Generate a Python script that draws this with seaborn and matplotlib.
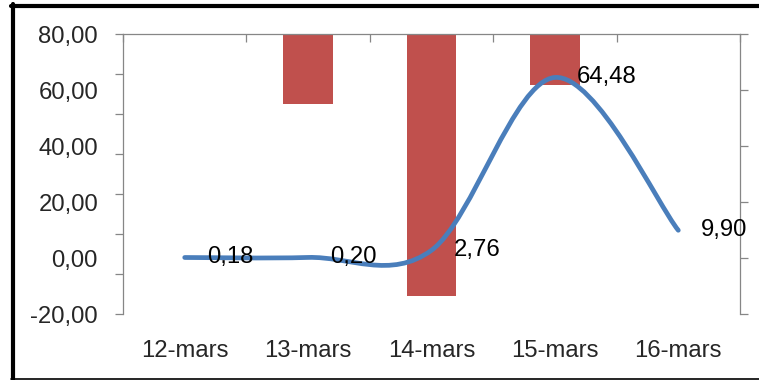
import matplotlib
matplotlib.use("Agg")
import matplotlib.pyplot as plt
from matplotlib.path import Path
from matplotlib.patches import PathPatch
from matplotlib.lines import Line2D
import numpy as np
import pandas as pd
import seaborn as sns

# ---- data ----
dates = ["12-mars", "13-mars", "14-mars", "15-mars", "16-mars"]
bar_values = [0.0, -17.6, -65.5, -12.75, 0.0]          # primary axis (hanging bars)
line_values = [0.18, 0.20, 2.76, 64.48, 9.90]          # secondary axis (smoothed line)
line_labels = ["0,18", "0,20", "2,76", "64,48", "9,90"]
left_ticks = [-20, 0, 20, 40, 60, 80]
left_tick_labels = ["-20,00", "0,00", "20,00", "40,00", "60,00", "80,00"]

BAR_COLOR = "#C0504D"
LINE_COLOR = "#4A7EBB"
AXIS_GREY = "#868686"
FS = 17.2

sns.set_theme(style="white")
plt.rcParams["font.family"] = ["Liberation Sans", "DejaVu Sans"]

W, H = 759, 380
fig = plt.figure(figsize=(W / 100, H / 100), dpi=100)
ax = fig.add_axes([123 / W, (H - 314) / H, (740 - 123) / W, (314 - 34) / H])

df = pd.DataFrame({"date": dates, "value": bar_values})
sns.barplot(data=df, x="date", y="value", color=BAR_COLOR, width=0.4,
            saturation=1, linewidth=0, ax=ax)
ax.set_xlim(-0.5, len(dates) - 0.5)
ax.set_ylim(-70, 0)
ax.set_yticks(np.arange(-70, 1, 10))
ax.tick_params(axis="y", which="major", left=True, right=False, labelleft=False,
               direction="out", length=6, width=0.9, color=AXIS_GREY)
ax.set_xlabel("")
ax.set_ylabel("")

# category labels at the bottom, separators at the top
ax.set_xticks(range(len(dates)))
ax.set_xticklabels(dates, fontsize=FS)
ax.tick_params(axis="x", which="major", bottom=True, top=False, length=0, pad=19,
               labelbottom=True)
ax.set_xticks(np.arange(-0.5, len(dates), 1.0), minor=True)
ax.tick_params(axis="x", which="minor", bottom=False, top=True, direction="in",
               length=6, width=0.9, color=AXIS_GREY)

for side in ["top", "left"]:
    ax.spines[side].set_color(AXIS_GREY)
    ax.spines[side].set_linewidth(0.9)
for side in ["right", "bottom"]:
    ax.spines[side].set_visible(False)

# secondary axis with the smoothed line
ax2 = ax.twinx()
ax2.set_ylim(-20, 80)
ax2.set_yticks(left_ticks)
ax2.set_yticklabels(left_tick_labels, fontsize=FS)
ax2.tick_params(axis="y", which="major", left=False, right=True, labelleft=True,
                labelright=False, direction="out", length=6, width=0.9,
                color=AXIS_GREY, pad=12)
for side in ["top", "left", "bottom"]:
    ax2.spines[side].set_visible(False)
ax2.spines["right"].set_color(AXIS_GREY)
ax2.spines["right"].set_linewidth(0.9)

# smoothed curve: cubic Bezier segments with Catmull-Rom style control points
xs = np.arange(len(line_values), dtype=float)
ys = np.array(line_values, dtype=float)
pts = np.column_stack([xs, ys])
verts = [tuple(pts[0])]
codes = [Path.MOVETO]
n = len(pts)
for i in range(n - 1):
    p0 = pts[i - 1] if i > 0 else pts[i]
    p1 = pts[i]
    p2 = pts[i + 1]
    p3 = pts[i + 2] if i + 2 < n else pts[i + 1]
    c1 = p1 + (p2 - p0) / 6.0
    c2 = p2 - (p3 - p1) / 6.0
    verts += [tuple(c1), tuple(c2), tuple(p2)]
    codes += [Path.CURVE4] * 3
curve = PathPatch(Path(verts, codes), facecolor="none", edgecolor=LINE_COLOR,
                  linewidth=3.4, capstyle="round", joinstyle="round",
                  transform=ax2.transData, zorder=3)
ax2.add_patch(curve)

for i, (v, lab) in enumerate(zip(line_values, line_labels)):
    ax2.annotate(lab, (i, v), xytext=(16, 0), textcoords="offset points",
                 ha="left", va="center", fontsize=FS, color="black", zorder=4)

# frame around the chart
fig.add_artist(Line2D([12.5 / W, 12.5 / W], [0, (H - 4) / H], color="black",
                      linewidth=3.0, transform=fig.transFigure))
fig.add_artist(Line2D([10.5 / W, 1.0], [(H - 5.5) / H, (H - 5.5) / H], color="black",
                      linewidth=3.0, transform=fig.transFigure))
fig.add_artist(Line2D([10.5 / W, 1.0], [1.5 / H, 1.5 / H], color="black",
                      linewidth=1.2, transform=fig.transFigure))

fig.savefig("out.png", dpi=100)
